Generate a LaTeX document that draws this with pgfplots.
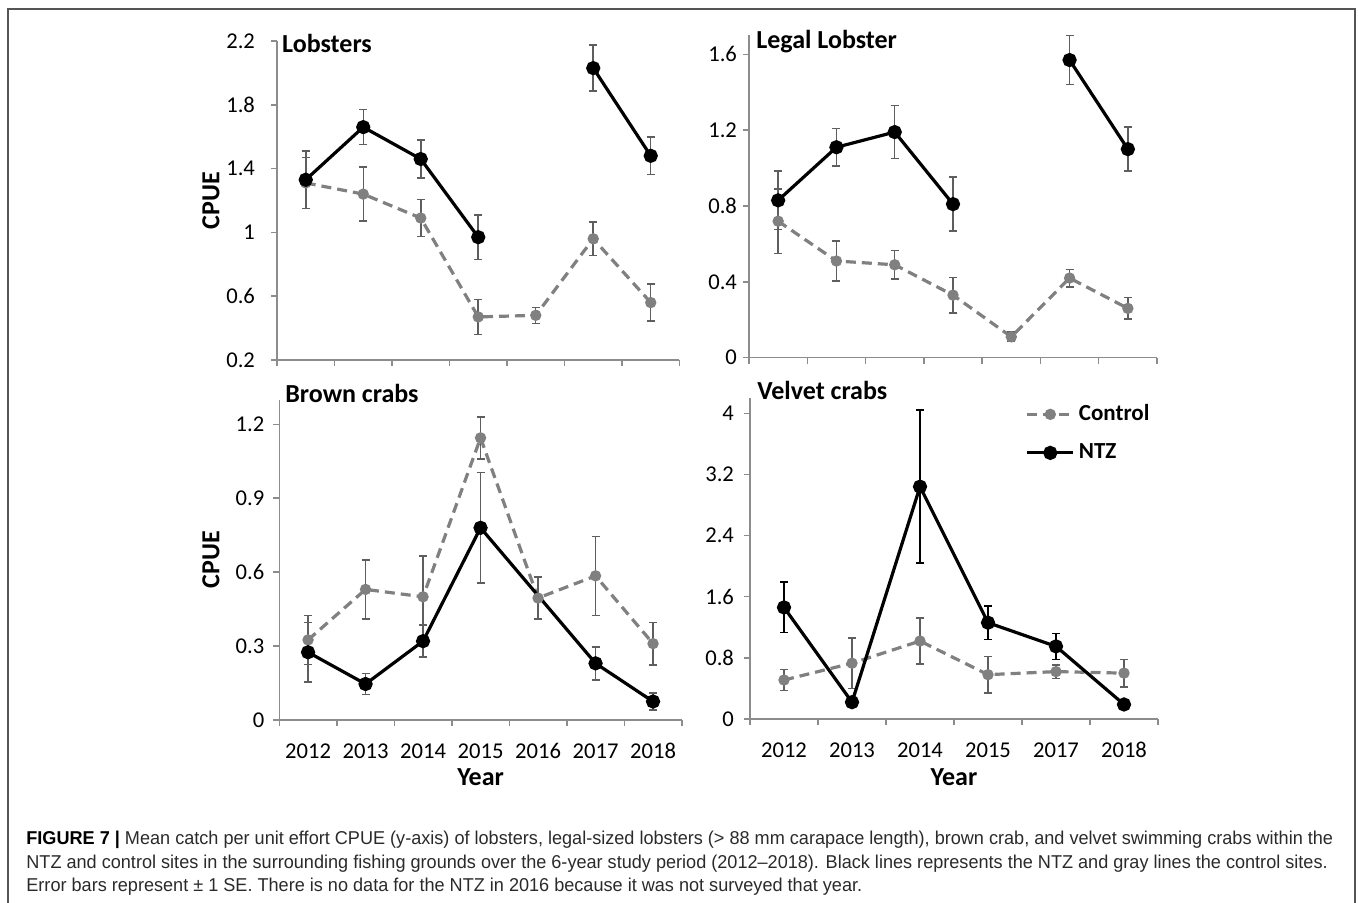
\documentclass[border=0pt]{standalone}
\usepackage{fontspec}
\setmainfont{Carlito}[Numbers=Lining]
\newfontfamily\capfont{Liberation Sans}[FakeStretch=0.973]
\usepackage{pgfplots}
\pgfplotsset{compat=1.18}

\definecolor{ctrl}{HTML}{808080}
\definecolor{ebar}{HTML}{5E5E5E}
\definecolor{axgray}{HTML}{8C8C8C}
\definecolor{frame}{HTML}{555555}
\definecolor{captext}{HTML}{2A2A2A}

\tikzset{ptitle/.style={anchor=base west, inner sep=0pt, font=\bfseries\fontsize{13}{15}\selectfont}}

\pgfplotsset{
  panel/.style={
    scale only axis, clip=false,
    axis x line*=bottom, axis y line*=left,
    axis line style={axgray, line width=0.75pt, -},
    tick style={axgray, line width=0.75pt},
    tick align=outside, major tick length=3pt, minor tick length=3pt,
    xmin=0, xmax=7,
    /pgf/number format/assume math mode=true,
    tick label style={font=\fontsize{11.3}{13}\selectfont, black},
    yticklabel style={/pgf/number format/fixed, anchor=east},
    label style={font=\bfseries\fontsize{13}{15}\selectfont},
  },
  toppanel/.style={panel, xtick={0,...,7}, xticklabels={}},
  botpanel/.style={panel, major x tick style={draw=none},
    xticklabel style={anchor=base, yshift=-16.5pt}},
  ctrlplot/.style={ctrl, line width=1.6pt, dash pattern=on 5pt off 3pt,
    mark=*, mark size=2pt, mark options={solid, fill=ctrl, draw=ctrl},
    error bars/.cd, y dir=both, y explicit,
    error bar style={ebar, line width=0.75pt, solid},
    error mark options={ebar, rotate=90, mark size=2pt, line width=0.75pt, solid}},
  ntzplot/.style={black, line width=1.6pt,
    mark=*, mark size=2.75pt, mark options={solid, fill=black},
    error bars/.cd, y dir=both, y explicit,
    error bar style={ebar, line width=0.75pt},
    error mark options={ebar, rotate=90, mark size=2pt, line width=0.75pt}},
}

% x = category position, y = mean CPUE, e = SE
\pgfplotstableread{
x   y     e
0.5 1.31  0.16
1.5 1.24  0.17
2.5 1.09  0.115
3.5 0.47  0.11
4.5 0.48  0.05
5.5 0.96  0.105
6.5 0.56  0.115
}\lobC
\pgfplotstableread{
x   y     e
0.5 1.33  0.18
1.5 1.66  0.11
2.5 1.46  0.12
3.5 0.97  0.14
}\lobNa
\pgfplotstableread{
x   y     e
5.5 2.03  0.145
6.5 1.48  0.117
}\lobNb

\pgfplotstableread{
x   y     e
0.5 0.72  0.17
1.5 0.51  0.105
2.5 0.49  0.075
3.5 0.33  0.094
4.5 0.11  0.025
5.5 0.42  0.046
6.5 0.26  0.057
}\legC
\pgfplotstableread{
x   y     e
0.5 0.83  0.155
1.5 1.11  0.10
2.5 1.19  0.14
3.5 0.81  0.143
}\legNa
\pgfplotstableread{
x   y     e
5.5 1.57  0.13
6.5 1.10  0.116
}\legNb

\pgfplotstableread{
x   y     e
0.5 0.325 0.10
1.5 0.53  0.12
2.5 0.50  0.165
3.5 1.145 0.085
4.5 0.495 0.085
5.5 0.585 0.16
6.5 0.31  0.086
}\broC
\pgfplotstableread{
x   y     e
0.5 0.275 0.12
1.5 0.146 0.043
2.5 0.32  0.065
3.5 0.78  0.225
5.5 0.23  0.067
6.5 0.075 0.034
}\broN

\pgfplotstableread{
x   y     e
0.5 0.51  0.14
1.5 0.73  0.33
2.5 1.02  0.30
3.5 0.58  0.24
4.5 0.62  0.087
5.5 0.60  0.18
}\velC
\pgfplotstableread{
x   y     e
0.5 1.46  0.33
1.5 0.22  0.03
2.5 3.04  1.00
3.5 1.26  0.22
4.5 0.95  0.17
5.5 0.19  0.03
}\velN

\begin{document}
\begin{tikzpicture}[x=0.5pt,y=0.5pt]
\useasboundingbox (0,0) rectangle (1358,903);
\draw[frame, line width=0.75pt] (8,0) -- (8,894) -- (1355,894) -- (1355,0);

% Lobsters
\begin{axis}[toppanel, at={(138.5pt,271.5pt)}, anchor=south west,
  width=201.25pt, height=159.5pt,
  ymin=0.2, ymax=2.2, ytick={0.2,0.6,...,2.2},
  yticklabel style={xshift=-4.5pt},
  ylabel={CPUE}, ylabel style={at={(rel axis cs:-0.164,0.5)}, anchor=center}]
\addplot[ctrlplot] table[x=x, y=y, y error=e] {\lobC};
\addplot[ntzplot] table[x=x, y=y, y error=e] {\lobNa};
\addplot[ntzplot] table[x=x, y=y, y error=e] {\lobNb};
\node[ptitle] at (rel axis cs:0.012,0.965) {Lobsters};
\end{axis}

% Legal lobster
\begin{axis}[toppanel, at={(374.5pt,272.65pt)}, anchor=south west,
  width=204pt, height=161.15pt,
  ymin=0, ymax=1.7, ytick={0,0.4,...,1.6},
  yticklabel style={xshift=0.5pt}]
\addplot[ctrlplot] table[x=x, y=y, y error=e] {\legC};
\addplot[ntzplot] table[x=x, y=y, y error=e] {\legNa};
\addplot[ntzplot] table[x=x, y=y, y error=e] {\legNb};
\node[ptitle] at (rel axis cs:0.017,0.958) {Legal Lobster};
\end{axis}

% Brown crabs
\begin{axis}[botpanel, at={(139.65pt,91.5pt)}, anchor=south west,
  width=201.25pt, height=160.15pt,
  xtick={0.5,1.5,...,6.5}, minor xtick={0,...,7},
  xticklabels={2012,2013,2014,2015,2016,2017,2018},
  ymin=0, ymax=1.3, ytick={0,0.3,...,1.2},
  yticklabel style={xshift=-1pt},
  xlabel={Year}, xlabel style={at={(rel axis cs:0.5,-0.178)}, anchor=center},
  ylabel={CPUE}, ylabel style={at={(rel axis cs:-0.170,0.5)}, anchor=center}]
\addplot[ctrlplot] table[x=x, y=y, y error=e] {\broC};
\addplot[ntzplot] table[x=x, y=y, y error=e] {\broN};
\node[ptitle] at (rel axis cs:0.014,0.992) {Brown crabs};
\end{axis}

% Velvet crabs
\begin{axis}[botpanel, at={(375pt,92pt)}, anchor=south west,
  width=204pt, height=160.5pt,
  xmax=6,
  xtick={0.5,1.5,...,5.5}, minor xtick={0,...,6},
  xticklabels={2012,2013,2014,2015,2017,2018},
  ymin=0, ymax=4.2, ytick={0,0.8,...,4.0},
  yticklabel style={xshift=-1.5pt},
  xlabel={Year}, xlabel style={at={(rel axis cs:0.5,-0.181)}, anchor=center},
  legend style={draw=none, fill=none, at={(rel axis cs:0.66,1.005)}, anchor=north west,
    font=\bfseries\fontsize{11.5}{13}\selectfont, row sep=6pt, cells={anchor=west}},
  legend image code/.code={\draw[mark repeat=2, mark phase=2, #1] plot coordinates {(0pt,0pt) (11.5pt,0pt) (23pt,0pt)};}]
\addplot[ctrlplot] table[x=x, y=y, y error=e] {\velC};
\addplot[ntzplot, error bar style={black}, error mark options={black, rotate=90, mark size=2pt, line width=0.75pt}] table[x=x, y=y, y error=e] {\velN};
\legend{Control, NTZ}
\node[ptitle] at (rel axis cs:0.017,0.994) {Velvet crabs};
\end{axis}

% caption
\begin{scope}[every node/.style={anchor=base west, inner sep=0pt, text=captext, font=\capfont\fontsize{9.3}{11.75}\selectfont}]
\node at (26,58) {{\color{black}\bfseries FIGURE 7 |} Mean catch per unit effort CPUE (y-axis) of lobsters, legal-sized lobsters (> 88 mm carapace length), brown crab, and velvet swimming crabs within the};
\node at (26,34.5) {NTZ and control sites in the surrounding fishing grounds over the 6-year study period (2012–2018). Black lines represents the NTZ and gray lines the control sites.};
\node at (26,11) {Error bars represent ± 1 SE. There is no data for the NTZ in 2016 because it was not surveyed that year.};
\end{scope}
\end{tikzpicture}
\end{document}
